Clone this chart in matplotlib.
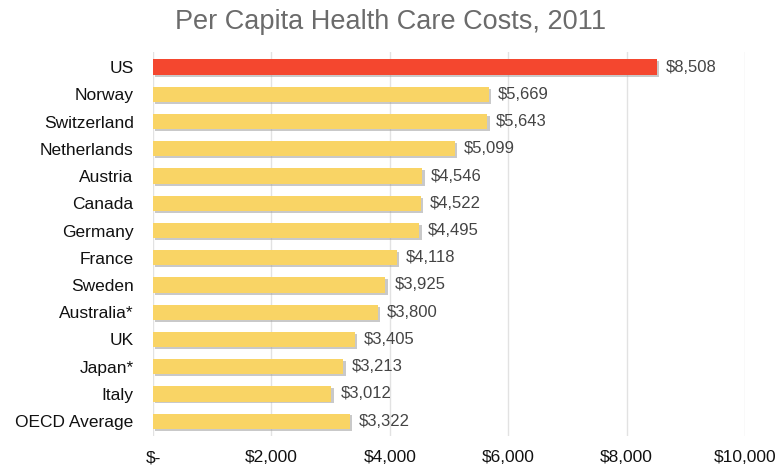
import numpy as np
import matplotlib.pyplot as plt

plt.rcParams['font.family'] = ['Liberation Sans', 'DejaVu Sans']

countries = ["US", "Norway", "Switzerland", "Netherlands", "Austria", "Canada",
             "Germany", "France", "Sweden", "Australia*", "UK", "Japan*", "Italy",
             "OECD Average"]
costs = [8508, 5669, 5643, 5099, 4546, 4522, 4495, 4118, 3925, 3800, 3405,
         3213, 3012, 3322]
ticks = [0, 2000, 4000, 6000, 8000, 10000]
tick_labels = ["$-", "$2,000", "$4,000", "$6,000", "$8,000", "$10,000"]

fig = plt.figure(figsize=(7.81, 4.65), dpi=100)
ax = fig.add_axes([0.196, 0.062, 0.758, 0.826])

y = np.arange(len(countries))
colors = ["#F4472F"] + ["#F9D465"] * (len(countries) - 1)

# soft shadow under each bar
ax.barh(y + 0.07, costs, height=0.56, left=40, color="#9E9E9E", alpha=0.55,
        zorder=2)
ax.barh(y, costs, height=0.56, color=colors, zorder=3)

for yi, v in zip(y, costs):
    ax.text(v + 150, yi, f"${v:,}", va="center", ha="left", fontsize=12,
            color="#444444")

ax.set_yticks(y)
ax.set_yticklabels(countries, fontsize=12.5, color="#111111")
ax.set_ylim(len(countries) - 0.45, -0.55)
ax.set_xlim(0, 10000)
ax.set_xticks(ticks)
ax.set_xticklabels(tick_labels, fontsize=12.5, color="#111111")
ax.tick_params(axis="both", length=0)
ax.tick_params(axis="y", pad=14)
ax.tick_params(axis="x", pad=10)
ax.grid(axis="x", color="#E2E2E2", linewidth=1, zorder=0)
ax.set_axisbelow(True)
for s in ax.spines.values():
    s.set_visible(False)

fig.text(0.5, 0.952, "Per Capita Health Care Costs, 2011", ha="center",
         va="center", fontsize=19.5, color="#6B6B6B")

fig.savefig("out.png", dpi=100)
